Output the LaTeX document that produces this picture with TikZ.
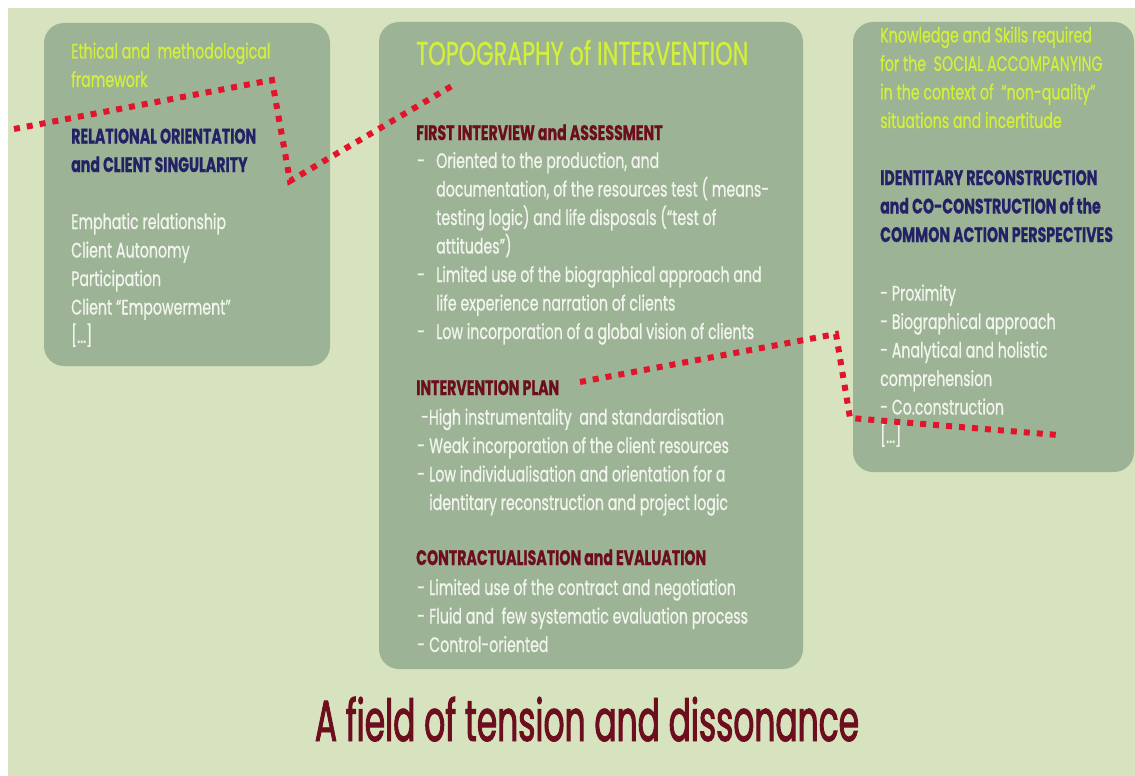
\documentclass[tikz,border=0pt]{standalone}
\usepackage{fontspec}
\setmainfont[FakeStretch=0.676,FakeBold=0.7]{Poppins}
\newfontfamily\titlefont[FakeStretch=0.567,FakeBold=1.6]{Poppins}
\usepackage{xcolor}
\usetikzlibrary{positioning}
\definecolor{paper}{HTML}{D7E3BE}
\definecolor{sage}{HTML}{9DB395}
\definecolor{lime}{HTML}{D2EF3A}
\definecolor{ink}{HTML}{232266}
\definecolor{wine}{HTML}{6C0E1E}
\definecolor{chalk}{HTML}{F2F4EE}
\definecolor{tear}{HTML}{E2142C}
\newcommand{\itm}[1][17pt]{\makebox[#1][l]{-}}
\newcommand{\ind}[1][17pt]{\hspace*{#1}}
% multi-line nodes sit on the baseline of their last line
\tikzset{
  panel/.style={fill=sage,rounded corners=20pt},
  txt/.style={anchor=base west,inner sep=0pt,align=left,font=\fontsize{21}{28.5}\selectfont},
  head/.style={txt,font=\fontsize{21}{28.5}\selectfont\bfseries},
  fault/.style={draw=tear,line width=6pt,dash pattern=on 6pt off 7pt}
}

\begin{document}
\begin{tikzpicture}[x=1pt,y=-1pt]
\useasboundingbox (0,0) rectangle (1135,776);
\fill[white] (0,0) rectangle (1135,776);
\fill[paper] (8,8) rectangle (1135,776);
\fill[panel] (44,23) rectangle (330,366);
\fill[panel] (379,22) rectangle (803,669);
\fill[panel] (853,22) rectangle (1134,472);

\node[txt,text=lime] (ethic) at (71,87) {Ethical and\ \ methodological\\framework};
\node[head,text=ink] (relat) at (71,172) {RELATIONAL ORIENTATION\\and CLIENT SINGULARITY};
\node[txt,text=chalk] (relitems) at (71,343) {Emphatic relationship\\Client Autonomy\\Participation\\Client “Empowerment”\\{[...]}};

\node[txt,text=lime,font=\fontsize{33}{40}\selectfont] (topo) at (416,65) {TOPOGRAPHY of INTERVENTION};
\node[head,text=wine] (first) at (416,140) {FIRST INTERVIEW and ASSESSMENT};
\node[txt,text=chalk] (firstitems) at (417,339) {\itm[19pt]Oriented to the production, and\\
  \ind[19pt]documentation, of the resources test ( means-\\
  \ind[19pt]testing logic) and life disposals (“test of\\
  \ind[19pt]attitudes”)\\
  \itm[19pt]Limited use of the biographical approach and\\
  \ind[19pt]life experience narration of clients\\
  \itm[19pt]Low incorporation of a global vision of clients};
\node[head,text=wine] (plan) at (416,395) {INTERVENTION PLAN};
\node[txt,text=chalk] (planitems) at (417,510) {\ \itm[8pt]High instrumentality\ \ and standardisation\\
  \itm[12pt]Weak incorporation of the client resources\\
  \itm[12pt]Low individualisation and orientation for a\\
  \ind[12pt]identitary reconstruction and project logic};
\node[head,text=wine] (contr) at (416,565) {CONTRACTUALISATION and EVALUATION};
\node[txt,text=chalk] (contritems) at (417,652) {\itm[12pt]Limited use of the contract and negotiation\\
  \itm[12pt]Fluid and\ \ few systematic evaluation process\\
  \itm[12pt]Control-oriented};

\node[txt,text=lime] (skills) at (880,128) {Knowledge and Skills required\\for the\ \ SOCIAL ACCOMPANYING\\in the context of\ \ “non-quality”\\situations and incertitude};
\node[head,text=ink] (ident) at (880,242) {IDENTITARY RECONSTRUCTION\\and CO-CONSTRUCTION of the\\COMMON ACTION PERSPECTIVES};
\node[txt,text=chalk] (identitems) at (880,443) {- Proximity\\- Biographical approach\\- Analytical and holistic\\comprehension\\- Co.construction\\{[...]}};

\node[anchor=base,inner sep=0pt,text=wine,font=\titlefont\fontsize{58}{60}\selectfont] (title) at (587,741) {A field of tension and dissonance};

\coordinate (p1) at (14,129);
\coordinate (p2) at (272,80);
\coordinate (p3) at (290,181);
\coordinate (p4) at (457,83);
\coordinate (q1) at (580,382);
\coordinate (q2) at (836,334);
\coordinate (q3) at (850,418);
\coordinate (q4) at (1058,435);
\draw[fault] (p1) -- (p2) -- (p3) -- (p4);
\draw[fault] (q1) -- (q2) -- (q3) -- (q4);
\end{tikzpicture}
\end{document}
